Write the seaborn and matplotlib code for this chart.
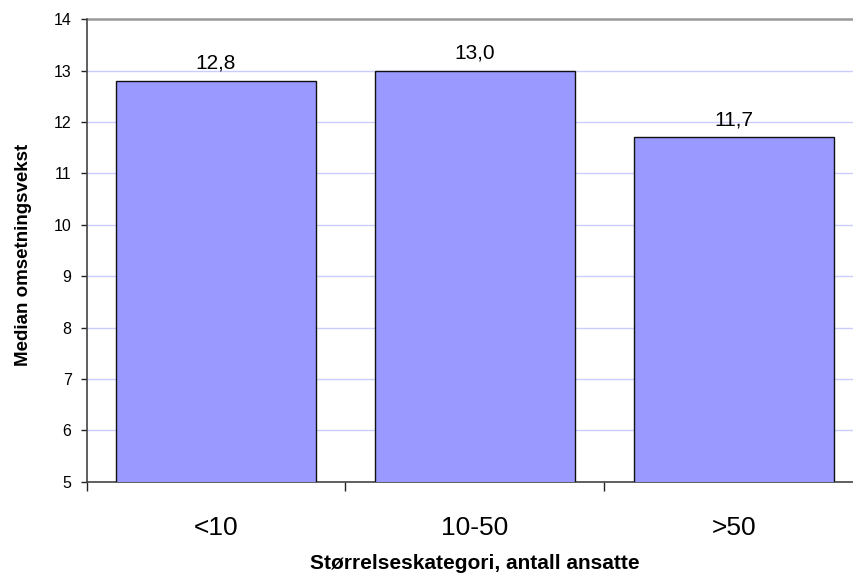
import matplotlib
matplotlib.use("Agg")
import matplotlib.pyplot as plt
import seaborn as sns
import pandas as pd
from matplotlib.ticker import FixedLocator

categories = ["<10", "10-50", ">50"]
values = [12.8, 13.0, 11.7]
y_ticks = [5, 6, 7, 8, 9, 10, 11, 12, 13, 14]

sns.set_style("white", {"text.color": "black", "axes.labelcolor": "black",
                        "xtick.color": "black", "ytick.color": "black"})
plt.rcParams["font.family"] = ["Liberation Sans", "DejaVu Sans"]

df = pd.DataFrame({"kategori": categories, "verdi": values})

fig = plt.figure(figsize=(8.54, 5.73), dpi=100)
ax = fig.add_axes([0.1013, 0.1593, 0.9098, 0.807])

sns.barplot(data=df, x="kategori", y="verdi", color="#9999FF", saturation=1,
            edgecolor="#111111", linewidth=1.0, width=0.77, ax=ax, zorder=3)

ax.set_ylim(5, 14)
ax.set_xlim(-0.5, 2.5)
ax.set_yticks(y_ticks)
ax.set_yticklabels([str(t) for t in y_ticks], fontsize=11.5)

# horizontal grid lines, the top one drawn darker
for t in y_ticks[1:-1]:
    ax.axhline(t, color="#CCCCFF", linewidth=1.0, zorder=1)
ax.axhline(14, color="#999999", linewidth=1.8, zorder=1, clip_on=False)

for side in ["top", "right"]:
    ax.spines[side].set_visible(False)
for side in ["left", "bottom"]:
    ax.spines[side].set_color("#444444")
    ax.spines[side].set_linewidth(1.2)

ax.tick_params(axis="y", which="major", left=True, direction="out", length=4.3,
               width=1.0, color="#222222", labelcolor="black", pad=6.5)
ax.tick_params(axis="x", which="major", bottom=True, length=0, pad=25, labelsize=19,
               labelcolor="black")
ax.xaxis.set_minor_locator(FixedLocator([-0.5, 0.5, 1.5, 2.5]))
ax.tick_params(axis="x", which="minor", bottom=True, direction="out", length=6.5,
               width=1.0, color="#222222")

for i, v in enumerate(values):
    ax.text(i, v + 0.24, f"{v:.1f}".replace(".", ","), ha="center", va="baseline",
            fontsize=15, color="black")

ax.set_xlabel("Størrelseskategori, antall ansatte", fontsize=15, fontweight="bold",
              color="black")
ax.xaxis.label.set_va("baseline")
ax.xaxis.set_label_coords(0.5, -0.188)
ax.set_ylabel("Median omsetningsvekst", fontsize=13.5, fontweight="bold", color="black")
ax.yaxis.label.set_va("center")
ax.yaxis.set_label_coords(-0.0817, 0.49)

fig.savefig("out.png", dpi=100)
